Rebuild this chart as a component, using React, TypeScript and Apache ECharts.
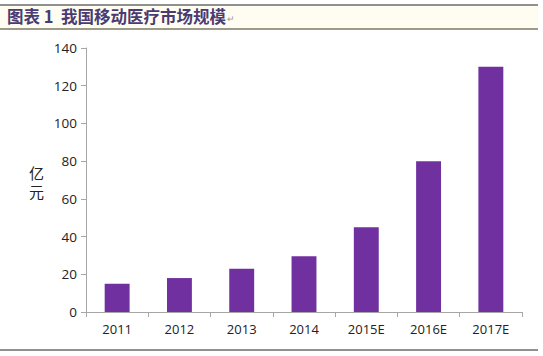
import React, { useEffect, useRef } from "react";
import * as echarts from "echarts";

const categories = ["2011", "2012", "2013", "2014", "2015E", "2016E", "2017E"];
const values = [15, 18, 23, 29.5, 45, 80, 130];
const titleText = "图表 1  我国移动医疗市场规模";
const unitLabel = "亿\n元";

export default function App() {
  const ref = useRef<HTMLDivElement>(null);
  useEffect(() => {
    const chart = echarts.init(ref.current!, null, { renderer: "svg" });
    chart.setOption({
      animation: false,
      backgroundColor: "#ffffff",
      grid: { left: 86, right: 21, top: 48, bottom: 44 },
      xAxis: {
        type: "category",
        data: categories,
        axisLine: { lineStyle: { color: "#a6a6a6" } },
        axisTick: { show: true, length: 5, lineStyle: { color: "#a6a6a6" } },
        axisLabel: { color: "#222", fontSize: 13, margin: 10, fontFamily: "Open Sans, sans-serif" },
      },
      yAxis: {
        type: "value",
        min: 0,
        max: 140,
        interval: 20,
        axisLine: { show: true, lineStyle: { color: "#a6a6a6" } },
        axisTick: { show: true, length: 5, lineStyle: { color: "#a6a6a6" } },
        splitLine: { show: false },
        axisLabel: { color: "#222", fontSize: 13.5, margin: 9, fontFamily: "Open Sans, sans-serif" },
      },
      series: [
        {
          type: "bar",
          data: values,
          barWidth: "40%",
          itemStyle: { color: "#7030a0" },
        },
      ],
      graphic: [
        { type: "rect", shape: { x: 0, y: 5, width: 538, height: 24 }, style: { fill: "#fffdf2" }, z: 0 },
        { type: "line", shape: { x1: 0, y1: 5, x2: 538, y2: 5 }, style: { stroke: "#222", lineWidth: 1 } },
        { type: "line", shape: { x1: 0, y1: 29, x2: 538, y2: 29 }, style: { stroke: "#3a3420", lineWidth: 1 } },
        { type: "line", shape: { x1: 0, y1: 350, x2: 538, y2: 350 }, style: { stroke: "#222", lineWidth: 1 } },
        {
          type: "text",
          left: 7,
          top: 8,
          style: {
            text: titleText,
            fill: "#4a3b72",
            font: "bold 16.5px 'Noto Sans CJK SC', sans-serif",
          },
        },
        {
          type: "text",
          left: 227,
          top: 14,
          style: {
            text: "↵",
            fill: "#999",
            font: "9px sans-serif",
          },
        },
        {
          type: "text",
          left: 29,
          top: 163,
          style: {
            text: unitLabel,
            fill: "#222",
            font: "15px 'Noto Sans CJK SC', sans-serif",
            lineHeight: 19,
          },
        },
      ],
    });
    return () => chart.dispose();
  }, []);
  return <div ref={ref} style={{ width: 543, height: 356, position: "absolute", left: 0, top: 0 }} />;
}
